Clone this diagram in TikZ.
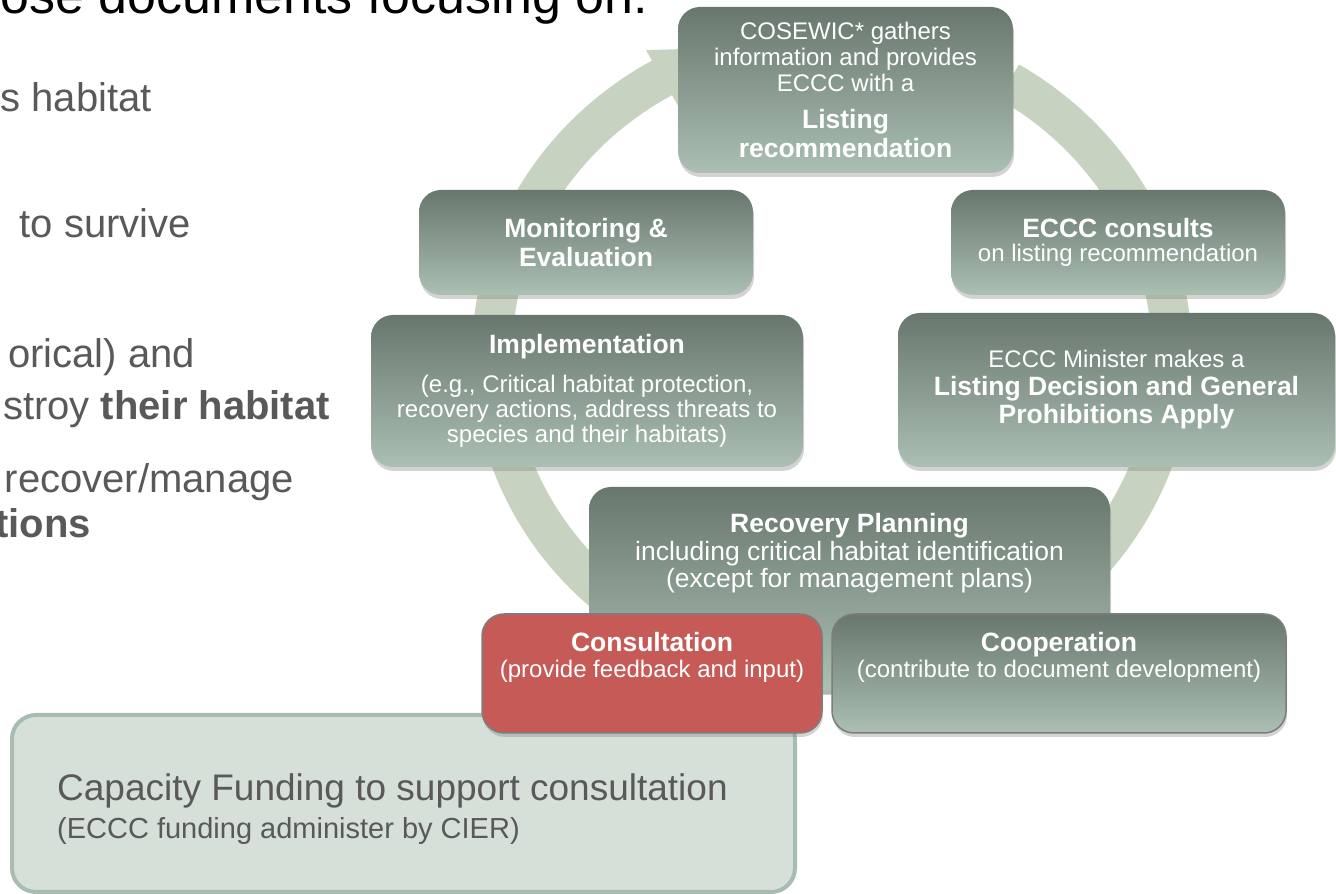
\documentclass[tikz,border=0pt]{standalone}
\usepackage{fontspec}
\setmainfont{Liberation Sans}
\usetikzlibrary{positioning,shadows,calc}

\definecolor{ringgreen}{RGB}{199,211,192}
\definecolor{boxtop}{RGB}{104,119,109}
\definecolor{boxbottom}{RGB}{171,191,179}
\definecolor{consultred}{RGB}{197,90,87}
\definecolor{capfill}{RGB}{214,223,216}
\definecolor{capline}{RGB}{168,188,177}
\definecolor{slidegray}{RGB}{89,89,89}
\definecolor{edgegray}{RGB}{125,125,125}

\newcommand{\bld}{\fontsize{26.5}{29}\selectfont\bfseries}

\begin{document}
\begin{tikzpicture}[x=1pt, y=1pt,
    stagebox/.style={rounded corners=22pt, top color=boxtop, bottom color=boxbottom,
      text=white, align=center, inner sep=0pt,
      drop shadow={shadow xshift=1pt, shadow yshift=-4pt, opacity=0.35}},
    boxtext/.style={text=white, align=center, inner sep=0pt},
    slidetext/.style={anchor=base east, inner sep=0pt, text=slidegray,
      font=\fontsize{40}{44}\selectfont}
  ]
  \useasboundingbox (0,0) rectangle (1336,894);
  \clip (0,0) rectangle (1336,894);

  % slide text behind the cycle
  \node[anchor=base east, inner sep=0pt, font=\fontsize{52}{56}\selectfont] (title) at (648,880) {ose documents focusing on:};
  \node[slidetext] (habitat) at (152,782) {s habitat};
  \node[slidetext] (survive) at (191,656) {to survive};
  \node[slidetext] (historical) at (195,526) {orical) and};
  \node[slidetext] (destroy) at (330,474) {stroy \textbf{their habitat}};
  \node[slidetext] (manage) at (294,401) {recover/manage};
  \node[slidetext] (actions) at (91,356) {\textbf{tions}};

  % ring arrow
  \coordinate (hub) at (832,539);
  \fill[ringgreen]
    ($(hub)+({360*cos(58.7)},{340*sin(58.7)})$)
    arc[start angle=58.7, end angle=-240, x radius=360, y radius=340]
    -- ($(hub)+({372*cos(-240)},{352*sin(-240)})$)
    -- ($(hub)+({340*cos(-254)},{320*sin(-254)})$)
    -- ($(hub)+({308*cos(-240)},{288*sin(-240)})$)
    -- ($(hub)+({320*cos(-240)},{300*sin(-240)})$)
    arc[start angle=-240, end angle=58.7, x radius=320, y radius=300]
    -- cycle;

  % stages
  \node[stagebox, minimum width=335pt, minimum height=166pt, font=\fontsize{24}{26}\selectfont] (cosewic) at (845.5,804)
    {COSEWIC* gathers\\information and provides\\ECCC with a\\[11pt]{\bld Listing}\\[3pt]{\bld recommendation}};
  \node[stagebox, minimum width=334pt, minimum height=105pt, font=\bld] (monitor) at (586,651.5)
    {Monitoring \&\\Evaluation};
  \node[stagebox, minimum width=432pt, minimum height=152pt, font=\fontsize{24}{25}\selectfont] (implement) at (587,503)
    {{\bld Implementation}\\[14pt](e.g., Critical habitat protection,\\recovery actions, address threats to\\species and their habitats)};
  \node[stagebox, minimum width=334pt, minimum height=105pt, font=\fontsize{24}{24}\selectfont] (consults) at (1118,651.5)
    {{\bld ECCC consults}\\on listing recommendation};
  \node[stagebox, minimum width=437pt, minimum height=154pt, font=\fontsize{24}{28}\selectfont] (minister) at (1116.5,504)
    {ECCC Minister makes a\\{\bld Listing Decision and General}\\{\bld Prohibitions Apply}};
  \node[stagebox, minimum width=521pt, minimum height=203pt] (recovery) at (849.5,305.5) {};
  \node[boxtext, font=\fontsize{26.5}{27.5}\selectfont, below=26.7pt of recovery.north] (recoverytext)
    {{\bfseries Recovery Planning}\\including critical habitat identification\\(except for management plans)};

  % capacity funding
  \node[fill=capfill, draw=capline, line width=4pt, rounded corners=24pt,
    minimum width=783pt, minimum height=177pt] (capacity) at (403.5,90.5) {};
  \node[anchor=north west, inner sep=0pt, align=left, text=slidegray, font=\fontsize{29}{38}\selectfont] (capacitytext) at (57,121)
    {{\fontsize{37}{38}\selectfont Capacity Funding to support consultation}\\(ECCC funding administer by CIER)};

  % consultation and cooperation
  \node[fill=consultred, draw=edgegray, line width=1.5pt, rounded corners=22pt,
    minimum width=340pt, minimum height=119pt,
    drop shadow={shadow xshift=1pt, shadow yshift=-4pt, opacity=0.35}] (consult) at (652,220.5) {};
  \node[boxtext, font=\fontsize{24}{25}\selectfont, below=19pt of consult.north] (consulttext)
    {{\bld Consultation}\\[1pt](provide feedback and input)};
  \node[stagebox, draw=edgegray, line width=1.5pt, minimum width=454pt, minimum height=119pt] (coop) at (1059,220.5) {};
  \node[boxtext, font=\fontsize{24}{25}\selectfont, below=19pt of coop.north] (cooptext)
    {{\bld Cooperation}\\[1pt](contribute to document development)};
\end{tikzpicture}
\end{document}
